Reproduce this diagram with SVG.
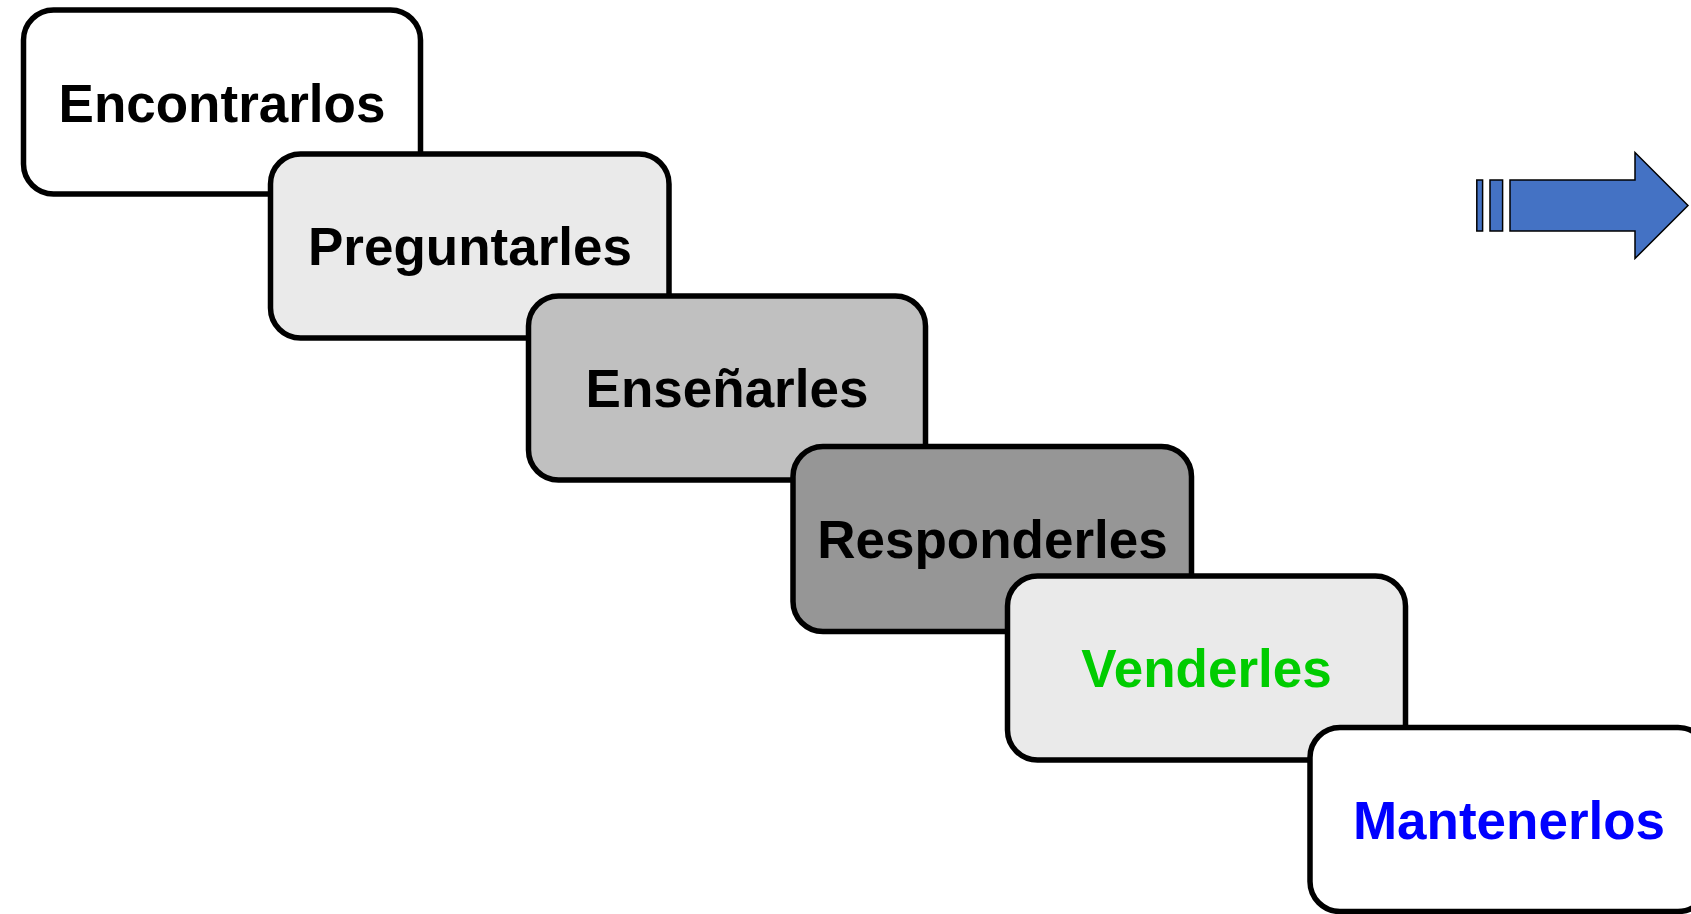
<svg xmlns="http://www.w3.org/2000/svg" width="1691" height="914" viewBox="0 0 1691 914">
  <style>
    .box { stroke: #000; stroke-width: 5.5; }
    .lbl { font-family: "Liberation Sans", Arial, sans-serif; font-weight: bold; font-size: 53px; text-anchor: middle; }
    .arrow { fill: #4472C4; stroke: #000; stroke-width: 1.5; stroke-linejoin: miter; }
  </style>
  <rect width="1691" height="914" fill="#fff"/>

  <!-- staircase of steps, each drawn over the previous one -->
  <g id="step-encontrarlos">
    <rect class="box" x="23.5" y="10" width="397" height="184" rx="30" fill="#FFFFFF"/>
    <text class="lbl" x="222" y="121.5" fill="#000">Encontrarlos</text>
  </g>
  <g id="step-preguntarles">
    <rect class="box" x="270.5" y="154" width="398.5" height="184" rx="30" fill="#EAEAEA"/>
    <text class="lbl" x="470" y="265" fill="#000">Preguntarles</text>
  </g>
  <g id="step-ensenarles">
    <rect class="box" x="528.5" y="296" width="397" height="184" rx="30" fill="#C0C0C0"/>
    <text class="lbl" x="727" y="406.5" fill="#000">Enseñarles</text>
  </g>
  <g id="step-responderles">
    <rect class="box" x="793" y="446.5" width="398.5" height="185" rx="30" fill="#969696"/>
    <text class="lbl" x="992.5" y="558" fill="#000">Responderles</text>
  </g>
  <g id="step-venderles">
    <rect class="box" x="1007.5" y="576" width="398" height="184" rx="30" fill="#EAEAEA"/>
    <text class="lbl" x="1206.5" y="686.5" fill="#00CC00">Venderles</text>
  </g>
  <g id="step-mantenerlos">
    <rect class="box" x="1310" y="727.5" width="398" height="184" rx="30" fill="#FFFFFF"/>
    <text class="lbl" x="1509" y="838.5" fill="#0000FF">Mantenerlos</text>
  </g>

  <!-- striped block arrow -->
  <g id="connectors">
    <g id="striped-arrow">
      <rect class="arrow" x="1476.8" y="180" width="5.8" height="51"/>
      <rect class="arrow" x="1490" y="180" width="12.6" height="51"/>
      <path class="arrow" d="M1510 180 H1635 V152.5 L1688 205.5 L1635 258.5 V231 H1510 Z"/>
    </g>
  </g>
</svg>
